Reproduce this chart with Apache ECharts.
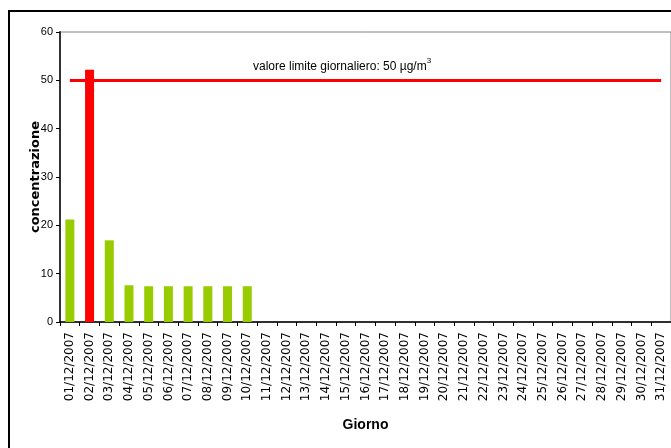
<!DOCTYPE html>
<html>
<head>
<meta charset="utf-8">
<script src="https://cdn.jsdelivr.net/npm/echarts@6/dist/echarts.min.js"></script>
<style>
  html, body { margin: 0; padding: 0; background: #fff; }
  #chart { width: 671px; height: 448px; }
</style>
</head>
<body>
<div id="chart"></div>
<script>
// giorni di dicembre 2007
const days = [
  "01/12/2007", "02/12/2007", "03/12/2007", "04/12/2007", "05/12/2007",
  "06/12/2007", "07/12/2007", "08/12/2007", "09/12/2007", "10/12/2007",
  "11/12/2007", "12/12/2007", "13/12/2007", "14/12/2007", "15/12/2007",
  "16/12/2007", "17/12/2007", "18/12/2007", "19/12/2007", "20/12/2007",
  "21/12/2007", "22/12/2007", "23/12/2007", "24/12/2007", "25/12/2007",
  "26/12/2007", "27/12/2007", "28/12/2007", "29/12/2007", "30/12/2007",
  "31/12/2007"
];
// concentrazione giornaliera (solo i primi 10 giorni hanno dati)
const concentration = [
  21.2, 52.2, 16.9, 7.6, 7.4, 7.4, 7.4, 7.4, 7.4, 7.4,
  null, null, null, null, null, null, null, null, null, null,
  null, null, null, null, null, null, null, null, null, null,
  null
];
const limitValue = 50;
const yTicks = [0, 10, 20, 30, 40, 50, 60];

const green = "#99CC00";
const red = "#FF0000";

const chart = echarts.init(document.getElementById("chart"));

const option = {
  backgroundColor: "#fff",
  animation: false,
  // cornice esterna
  graphic: [
    {
      type: "rect",
      shape: { x: 9, y: 11, width: 700, height: 500 },
      style: { fill: "none", stroke: "#000", lineWidth: 2 }
    }
  ],
  // testo del valore limite
  title: {
    left: 248,
    top: 49,
    text: "{a|valore limite giornaliero: " + limitValue + " }{a|µg/m}{s|3}",
    textStyle: {
      rich: {
        a: { fontFamily: "Liberation Sans", fontSize: 12, fontWeight: "normal", color: "#000", verticalAlign: "bottom", height: 14 },
        s: { fontFamily: "Liberation Sans", fontSize: 8, fontWeight: "normal", color: "#000", verticalAlign: "top", height: 14, padding: [0, 0, 6, 0] }
      }
    }
  },
  grid: {
    left: 60,
    top: 32,
    right: 0,
    bottom: 126,
    show: true,
    borderColor: "#808080",
    borderWidth: 1
  },
  xAxis: {
    type: "category",
    data: days,
    name: "Giorno",
    nameLocation: "middle",
    nameGap: 96,
    nameMoveOverlap: false,
    nameTextStyle: { fontFamily: "Liberation Sans", fontSize: 14, fontWeight: "bold", color: "#000", verticalAlign: "top" },
    axisLine: { lineStyle: { color: "#000", width: 1.5 } },
    axisTick: { show: true, length: 4, lineStyle: { color: "#000" } },
    axisLabel: {
      interval: 0,
      rotate: 90,
      margin: 10,
      fontFamily: "DejaVu Sans",
      fontSize: 12,
      color: "#000"
    }
  },
  yAxis: {
    type: "value",
    min: yTicks[0],
    max: yTicks[yTicks.length - 1],
    interval: 10,
    name: "concentrazione",
    nameLocation: "middle",
    nameRotate: 90,
    nameGap: 18,
    nameMoveOverlap: false,
    nameTextStyle: { fontFamily: "DejaVu Sans", fontSize: 13, fontWeight: "bold", color: "#000" },
    axisLine: { show: true, lineStyle: { color: "#333", width: 2 } },
    axisTick: { show: true, length: 4, lineStyle: { color: "#000" } },
    axisLabel: { fontFamily: "Liberation Sans", fontSize: 11, color: "#000", margin: 7 },
    splitLine: { show: false }
  },
  series: [
    {
      type: "bar",
      barWidth: 9,
      data: concentration.map((v) => ({
        value: v,
        itemStyle: { color: v !== null && v > limitValue ? red : green }
      })),
      markLine: {
        silent: true,
        symbol: "none",
        label: { show: false },
        lineStyle: { color: red, width: 3, type: "solid" },
        data: [
          [
            { coord: [days[0], limitValue] },
            { coord: [days[days.length - 1], limitValue] }
          ]
        ]
      }
    }
  ]
};

chart.setOption(option);
</script>
</body>
</html>
